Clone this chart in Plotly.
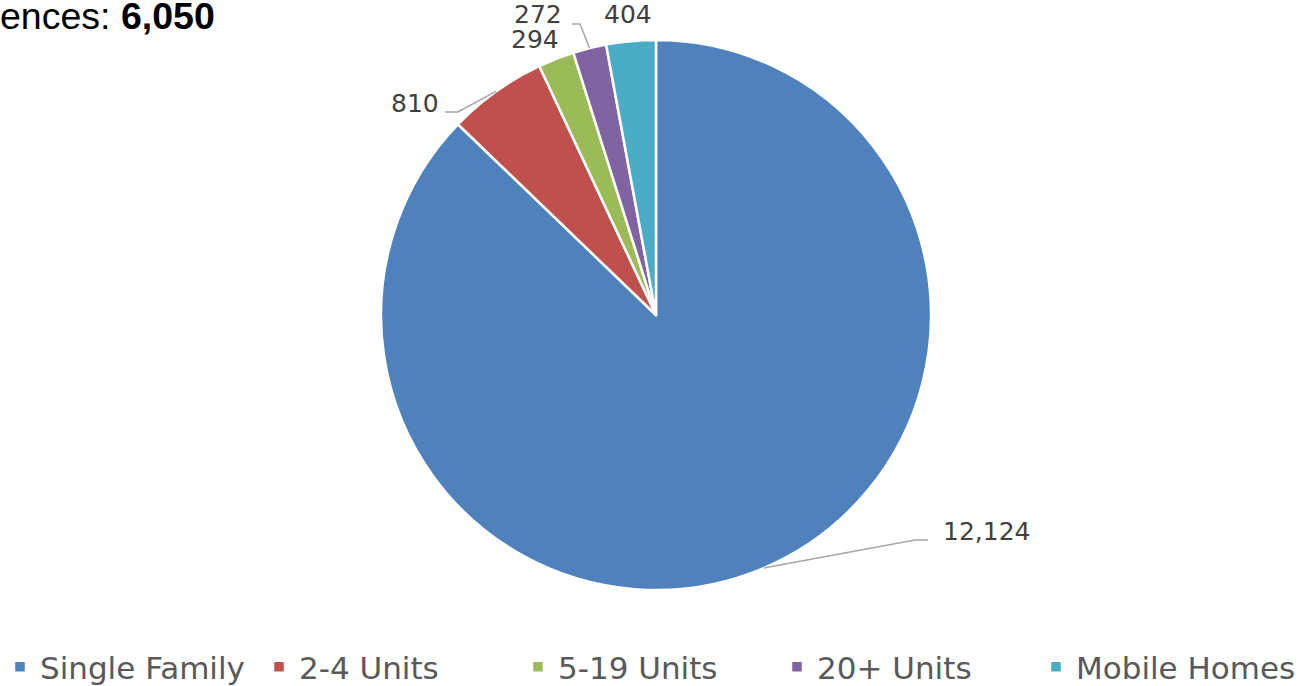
import plotly.graph_objects as go
import numpy as np

# ---- data ----
categories = ["Single Family", "2-4 Units", "5-19 Units", "20+ Units", "Mobile Homes"]
values = [12124, 810, 294, 272, 404]
colors = ["#4F81BD", "#C0504D", "#9BBB59", "#8064A2", "#4BACC6"]
title_prefix = "ences: "
title_value = "6,050"

# ---- layout constants (pixels) ----
W, H = 1307, 686
CX, CY, R = 656, 315, 275


def px(x):
    return x / W


def py(y):
    return 1 - y / H


label_layout = {
    "Single Family": dict(x=941, y=531, xanchor="left", path=[(915, 540), (928, 540)]),
    "2-4 Units": dict(x=441, y=103.5, xanchor="right", path=[(458, 112), (445, 112)]),
    "5-19 Units": dict(x=561, y=39, xanchor="right", path=None),
    "20+ Units": dict(x=564, y=15, xanchor="right", path=[(580, 24), (572, 24)]),
    "Mobile Homes": dict(x=602, y=15, xanchor="left", path=None),
}

fig = go.Figure()
fig.add_trace(go.Pie(
    labels=categories,
    values=values,
    sort=False,
    direction="clockwise",
    rotation=0,
    marker=dict(colors=colors, line=dict(color="white", width=2.5)),
    textinfo="none",
    hoverinfo="label+value",
    domain=dict(x=[px(CX - R), px(CX + R)], y=[py(CY + R), py(CY - R)]),
))

# labels and leader lines computed from data angles
total = float(sum(values))
cum = 0.0
annotations = []
shapes = []
for cat, v in zip(categories, values):
    mid = (cum + v / 2) / total * 2 * np.pi
    cum += v
    ex = CX + R * np.sin(mid)
    ey = CY - R * np.cos(mid)
    lay = label_layout[cat]
    annotations.append(dict(
        text=f"{v:,}", x=px(lay["x"]), y=py(lay["y"]), xref="paper", yref="paper",
        xanchor=lay["xanchor"], yanchor="middle", showarrow=False,
        font=dict(family="DejaVu Sans", size=25, color="#404040"),
    ))
    if lay["path"]:
        pts = [(ex, ey)] + lay["path"]
        d = "M " + " L ".join(f"{px(a):.6f},{py(b):.6f}" for a, b in pts)
        shapes.append(dict(type="path", path=d, xref="paper", yref="paper",
                           line=dict(color="#A6A6A6", width=1.5)))

annotations.append(dict(
    text=f"{title_prefix}<b>{title_value}</b>", x=0, y=1, xref="paper", yref="paper",
    xanchor="left", yanchor="top", xshift=-2, yshift=7, showarrow=False,
    font=dict(family="Liberation Sans", size=37.5, color="#000000"),
))

fig.update_layout(
    width=W, height=H,
    margin=dict(l=0, r=0, t=0, b=0, autoexpand=False),
    paper_bgcolor="white",
    plot_bgcolor="white",
    annotations=annotations,
    shapes=shapes,
    showlegend=True,
    legend=dict(
        orientation="h", x=0, xanchor="left", y=py(667), yanchor="middle",
        font=dict(family="DejaVu Sans", size=31, color="#595959"),
        entrywidth=214, entrywidthmode="pixels",
        bgcolor="rgba(0,0,0,0)",
    ),
)

fig.write_html(
    "out.html",
    config={"displayModeBar": False},
    post_script="document.body.style.margin='0';document.body.style.overflow='hidden';",
)
